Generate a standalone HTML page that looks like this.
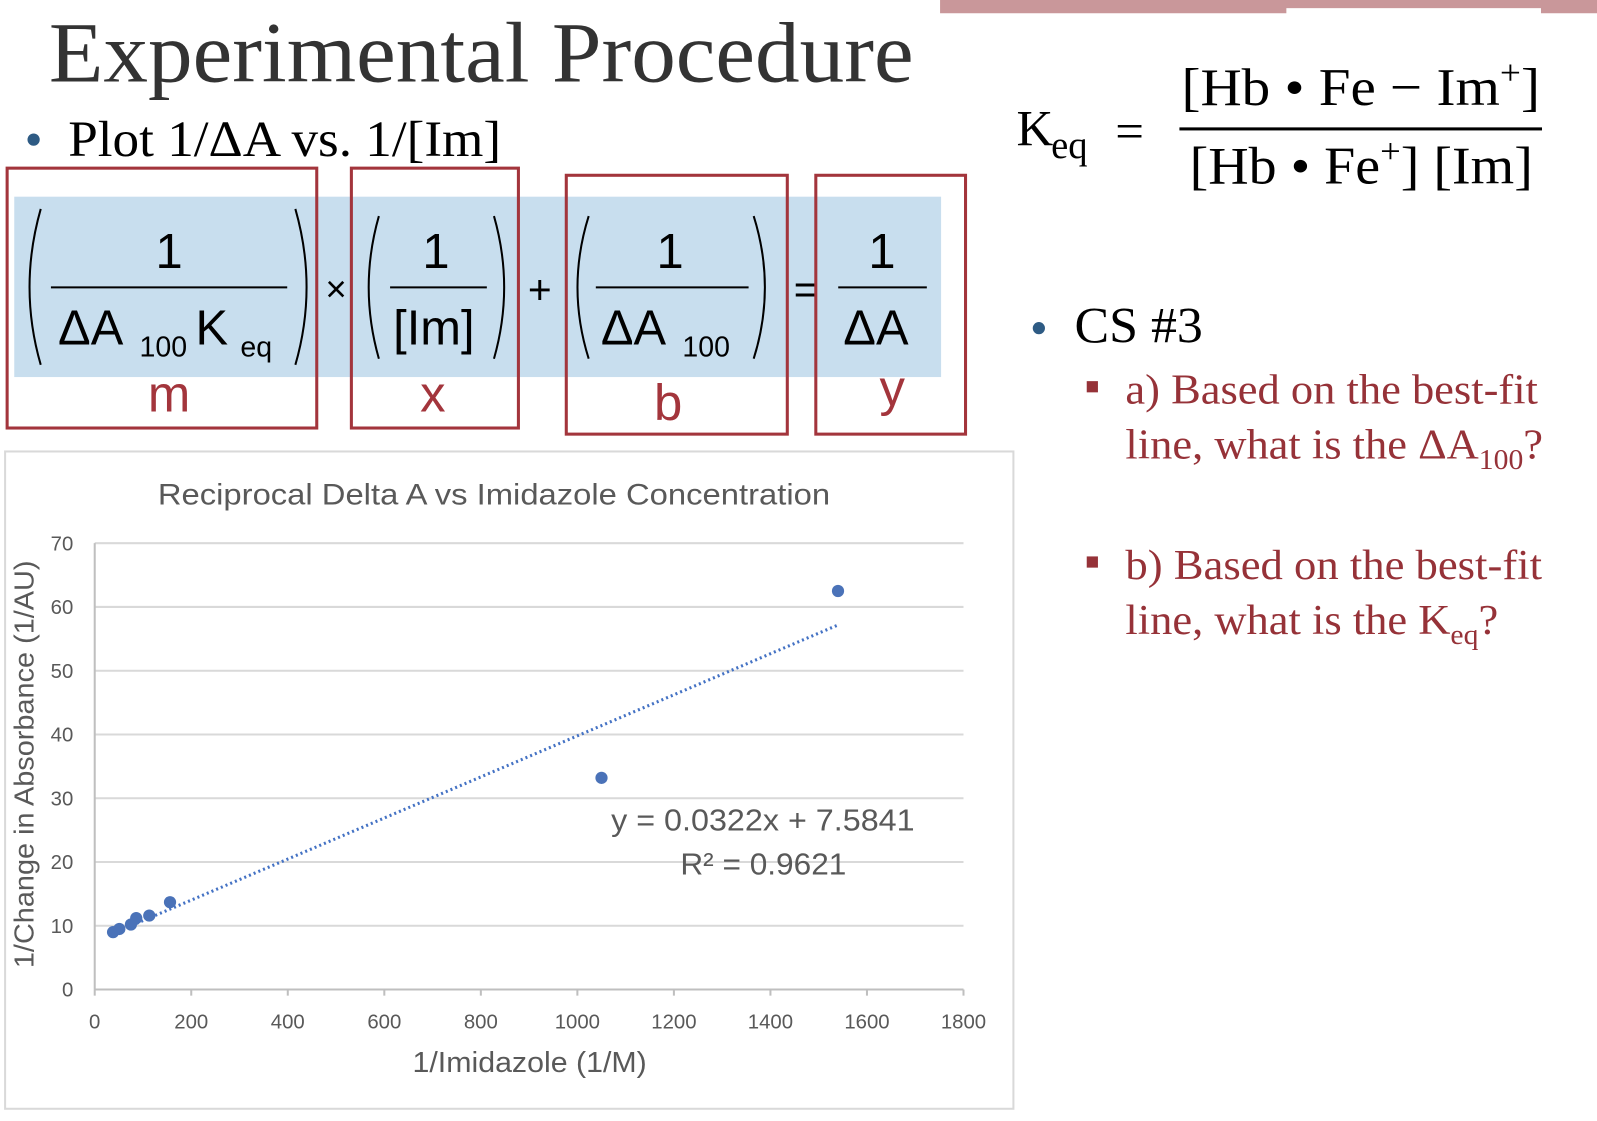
<!DOCTYPE html>
<html><head><meta charset="utf-8"><style>
html,body{margin:0;padding:0;background:#fff;overflow:hidden}
svg{display:block}
.serif{font-family:"Liberation Serif",serif}
.sans{font-family:"Liberation Sans",sans-serif}
</style></head><body>
<svg id="root" width="1597" height="1121" viewBox="0 0 1568 1100" preserveAspectRatio="none" xmlns="http://www.w3.org/2000/svg">
<rect x="923" y="0" width="645" height="13" fill="#c9979a"/>
<rect x="1263" y="8" width="250" height="6" fill="#fff"/>

<text x="48" y="80" font-size="84" fill="#333" class="serif" textLength="849" lengthAdjust="spacingAndGlyphs">Experimental Procedure</text>
<circle cx="33" cy="137" r="6" fill="#2e5b84"/>
<text x="67" y="153" font-size="50" class="serif" textLength="425" lengthAdjust="spacingAndGlyphs">Plot 1/ΔA vs. 1/[Im]</text>

<g>
<rect x="14" y="193" width="910" height="177" fill="#c8deee"/>
<g fill="none" stroke="#000" stroke-width="2">
<path d="M40 205 Q18 282 40 358"/><path d="M290 205 Q312 282 290 358"/>
<path d="M372 212 Q352 282 372 352"/><path d="M485 212 Q505 282 485 352"/>
<path d="M578 212 Q556 282 578 352"/><path d="M740 212 Q762 282 740 352"/>
<line x1="50" y1="282" x2="282" y2="282"/><line x1="383" y1="282" x2="478" y2="282"/>
<line x1="585" y1="282" x2="735" y2="282"/><line x1="823" y1="282" x2="910" y2="282"/>
</g>
<g class="sans" font-size="48" fill="#000">
<text x="166" y="263" text-anchor="middle">1</text>
<text x="57" y="338">ΔA</text><text x="137" y="350" font-size="28">100</text>
<text x="192" y="338">K</text><text x="236" y="350" font-size="28">eq</text>
<text x="330" y="296" text-anchor="middle" font-size="36">×</text>
<text x="428" y="263" text-anchor="middle">1</text>
<text x="386" y="338">[Im]</text>
<text x="530" y="298" text-anchor="middle" font-size="40">+</text>
<text x="658" y="263" text-anchor="middle">1</text>
<text x="590" y="338">ΔA</text><text x="670" y="350" font-size="28">100</text>
<text x="791" y="298" text-anchor="middle" font-size="40">=</text>
<text x="866" y="263" text-anchor="middle">1</text>
<text x="828" y="338">ΔA</text>
</g>
<g fill="none" stroke="#a3353c" stroke-width="3">
<rect x="7" y="165" width="304" height="255"/>
<rect x="345" y="165" width="164" height="255"/>
<rect x="556" y="172" width="217" height="254"/>
<rect x="801" y="172" width="147" height="254"/>
</g>
<g class="sans" font-size="50" fill="#a3353c" text-anchor="middle">
<text x="166" y="404">m</text>
<text x="425" y="404">x</text>
<text x="656" y="412">b</text>
<text x="876" y="398">y</text>
</g>
</g>

<g class="serif" fill="#000">
<text x="998" y="143" font-size="50">K</text><text x="1032" y="155" font-size="38">eq</text>
<text x="1095" y="145" font-size="50">=</text>
<text x="1160" y="103" font-size="52" textLength="352" lengthAdjust="spacingAndGlyphs">[Hb • Fe − Im<tspan dy="-20" font-size="34">+</tspan><tspan dy="20">]</tspan></text>
<rect x="1158" y="125" width="356" height="3"/>
<text x="1168" y="180" font-size="52" textLength="337" lengthAdjust="spacingAndGlyphs">[Hb • Fe<tspan dy="-20" font-size="34">+</tspan><tspan dy="20">] [Im]</tspan></text>
</g>

<circle cx="1020" cy="322" r="6" fill="#2e5b84"/>
<text x="1055" y="336" font-size="50" class="serif" textLength="126" lengthAdjust="spacingAndGlyphs">CS #3</text>
<g class="serif" font-size="42" fill="#963238">
<rect x="1067" y="374" width="11" height="11" fill="#963238"/>
<text x="1105" y="396" textLength="405" lengthAdjust="spacingAndGlyphs">a) Based on the best-fit</text>
<text x="1105" y="450" textLength="410" lengthAdjust="spacingAndGlyphs">line, what is the ΔA<tspan dy="10" font-size="28">100</tspan><tspan dy="-10">?</tspan></text>
<rect x="1067" y="546" width="11" height="11" fill="#963238"/>
<text x="1105" y="568" textLength="409" lengthAdjust="spacingAndGlyphs">b) Based on the best-fit</text>
<text x="1105" y="622" textLength="366" lengthAdjust="spacingAndGlyphs">line, what is the K<tspan dy="10" font-size="28">eq</tspan><tspan dy="-10">?</tspan></text>
</g>

<g id="chart" class="sans">
<rect x="5" y="443" width="990" height="645" fill="#fff" stroke="#d9d9d9" stroke-width="2"/>
<text x="485" y="495" font-size="29" fill="#595959" text-anchor="middle" textLength="660" lengthAdjust="spacingAndGlyphs">Reciprocal Delta A vs Imidazole Concentration</text>
<text x="520" y="1052" font-size="28" fill="#595959" text-anchor="middle" textLength="230" lengthAdjust="spacingAndGlyphs">1/Imidazole (1/M)</text>
<text transform="translate(33,750) rotate(-90)" font-size="27" fill="#595959" text-anchor="middle" textLength="400" lengthAdjust="spacingAndGlyphs">1/Change in Absorbance (1/AU)</text>
<text x="898" y="815" font-size="30" fill="#595959" text-anchor="end" textLength="298" lengthAdjust="spacingAndGlyphs">y = 0.0322x + 7.5841</text>
<text x="831" y="858" font-size="30" fill="#595959" text-anchor="end" textLength="163" lengthAdjust="spacingAndGlyphs">R² = 0.9621</text>
</g>
</svg>
<script>
const xTicks = [0,200,400,600,800,1000,1200,1400,1600,1800];
const yTicks = [0,10,20,30,40,50,60,70];
const xValues = [38,51,75,86,113,156,1050,1540];
const yValues = [9.0,9.5,10.2,11.2,11.6,13.7,33.2,62.5];
const slope = [0.0322];
const intercept = [7.5841];
const trendRange = [38,1540];

const NS='http://www.w3.org/2000/svg';
const X0=93,X1=946,Y0=971,Y1=533,XMAX=1800,YMAX=70;
function sx(v){return X0+(v/XMAX)*(X1-X0);}
function sy(v){return Y0-(v/YMAX)*(Y0-Y1);}
const chart=document.getElementById('chart');
function mk(tag,attrs){const e=document.createElementNS(NS,tag);for(const k in attrs)e.setAttribute(k,attrs[k]);return e;}
const grid=mk('g',{});
chart.insertBefore(grid,chart.children[1]);
yTicks.forEach(t=>{
  if(t>0){const l=mk('line',{x1:X0,x2:X1,y1:sy(t),y2:sy(t),stroke:'#d9d9d9','stroke-width':2});
  
  
  grid.appendChild(l);}
  const tx=mk('text',{x:X0-21,y:sy(t)+7,'font-size':20,fill:'#595959','text-anchor':'end'});
  tx.textContent=t;
  
  
  grid.appendChild(tx);
});
const ax=mk('line',{x1:X0,x2:X1,y1:Y0,y2:Y0,stroke:'#bfbfbf','stroke-width':2});


grid.appendChild(ax);
const ay=mk('line',{x1:X0,x2:X0,y1:Y1,y2:Y0,stroke:'#bfbfbf','stroke-width':2});


grid.appendChild(ay);
xTicks.forEach(t=>{
  const tk=mk('line',{x1:sx(t),x2:sx(t),y1:Y0,y2:Y0+6,stroke:'#bfbfbf','stroke-width':2});
  
  
  grid.appendChild(tk);
  const tx=mk('text',{x:sx(t),y:Y0+38,'font-size':20,fill:'#595959','text-anchor':'middle'});
  tx.textContent=t;
  
  
  grid.appendChild(tx);
});
const tl=mk('line',{x1:sx(trendRange[0]),y1:sy(slope[0]*trendRange[0]+intercept[0]),x2:sx(trendRange[1]),y2:sy(slope[0]*trendRange[1]+intercept[0]),stroke:'#4472c4','stroke-width':3,'stroke-dasharray':'2 3'});


grid.appendChild(tl);
xValues.forEach((v,i)=>{
  const c=mk('circle',{cx:sx(v),cy:sy(yValues[i]),r:6,fill:'#4a72b8'});
  
  
  grid.appendChild(c);
});
</script>
</body></html>
